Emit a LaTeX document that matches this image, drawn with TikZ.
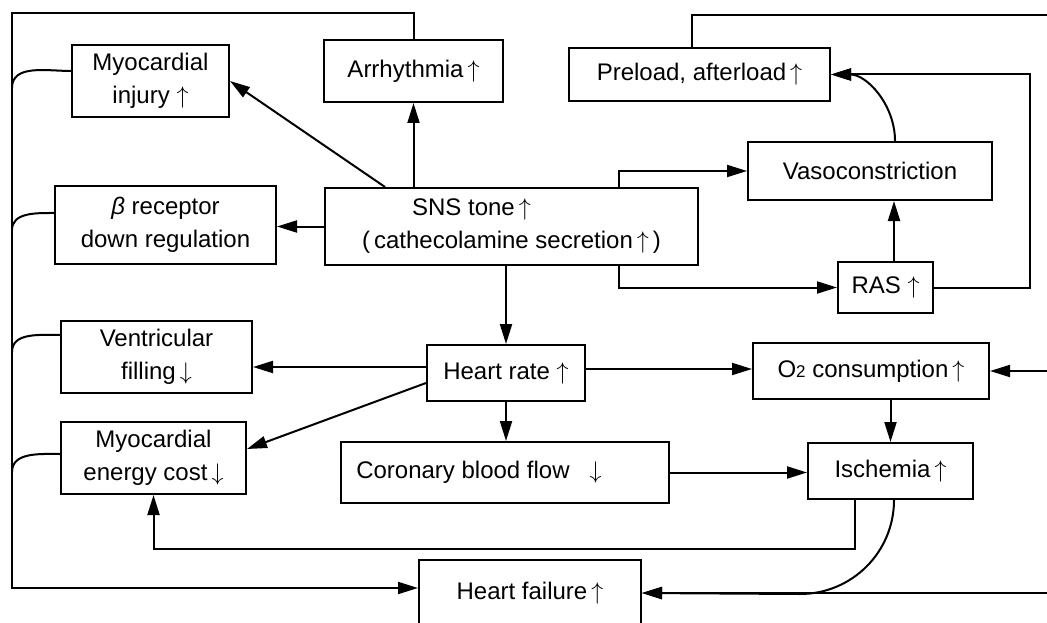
\documentclass[tikz,border=0pt]{standalone}
\usepackage{fontspec}
\setmainfont{Liberation Sans}
\usetikzlibrary{arrows.meta}

\begin{document}
\begin{tikzpicture}[x=0.5pt, y=0.5pt,
    box/.style={draw, line width=1pt, align=center, inner sep=1pt, font=\fontsize{12}{16.5}\selectfont},
    flow/.style={line width=1pt, -{Triangle[length=10pt, width=6pt]}},
    merge/.style={line width=1pt}
]

    \useasboundingbox (0,0) rectangle (1047,622);
    \clip (0,0) rectangle (1047,622);

    % Boxes

    \node[box, minimum width=78.5pt, minimum height=36pt] (injury) at (150.5,541) {Myocardial\\injury $\uparrow$};

    \node[box, minimum width=89.5pt, minimum height=31pt] (arrhy) at (413.5,551) {Arrhythmia\,$\uparrow$};

    \node[box, minimum width=130.5pt, minimum height=26.5pt] (preload) at (699.5,547.5) {Preload, afterload\,$\uparrow$};

    \node[box, minimum width=186.5pt, minimum height=38.5pt] (sns) at (511.5,395.5) {SNS tone\,$\uparrow$\hspace*{40pt}\\(\,cathecolamine secretion\,$\uparrow$\,)};

    \node[box, minimum width=110.5pt, minimum height=39pt] (beta) at (165.5,397) {\textit{β} receptor\\down regulation};

    \node[box, minimum width=122pt, minimum height=29pt] (vaso) at (870,451) {Vasoconstriction};

    \node[box, minimum width=47.5pt, minimum height=25.5pt] (ras) at (885.5,334.5) {RAS $\uparrow$};

    \node[box, minimum width=95.5pt, minimum height=36pt] (ventr) at (156.5,265) {Ventricular\\filling\,$\downarrow$};

    \node[box, minimum width=92.5pt, minimum height=36pt] (energy) at (153.5,164) {Myocardial\\energy cost\,$\downarrow$};

    \node[box, minimum width=79pt, minimum height=28pt] (hr) at (506,249) {Heart rate $\uparrow$};

    \node[box, minimum width=164pt, minimum height=30.5pt] (cbf) at (505,149.5) {Coronary blood flow\hspace{10pt}$\downarrow$\hspace*{26pt}};

    \node[box, minimum width=118pt, minimum height=28pt] (o2) at (871,251) {O{\fontsize{8.5}{8.5}\selectfont 2} consumption\,$\uparrow$};

    \node[box, minimum width=82.5pt, minimum height=28pt] (isch) at (890.5,151) {Ischemia\,$\uparrow$};

    \node[box, minimum width=111pt, minimum height=33pt] (hf) at (530,29) {Heart failure\,$\uparrow$};

    % Left feedback line

    \coordinate (tl) at (12,609);
    \coordinate (bl) at (12,34);
    \coordinate (j1) at (12,534);
    \coordinate (j2) at (12,392);
    \coordinate (j3) at (12,270);
    \coordinate (j4) at (12,150);

    \draw[flow] (arrhy.north) |- (tl) -- (bl) -- (bl -| hf.west);

    \draw[merge] ([yshift=5pt]injury.west) to[out=180,in=90] (j1);
    \draw[merge] ([yshift=6pt]beta.west) to[out=180,in=90] (j2);
    \draw[merge] ([yshift=11pt]ventr.west) to[out=180,in=90] (j3);
    \draw[merge] ([yshift=2pt]energy.west) to[out=180,in=90] (j4);

    % SNS tone

    \draw[flow] ([xshift=-63.25pt]sns.north) -- (injury.east);
    \draw[flow] (arrhy.south |- sns.north) -- (arrhy.south);
    \draw[flow] (sns.west) -- (sns.west -| beta.east);
    \draw[flow] ([xshift=53.75pt]sns.north) |- (vaso.west);
    \draw[flow] ([xshift=53.75pt]sns.south) |- (ras.west);
    \draw[flow] (hr.north |- sns.south) -- (hr.north);

    % RAS and vasoconstriction

    \coordinate (rc) at (1030,400);
    \draw[flow] ([xshift=4.25pt]ras.north) -- ([xshift=4.25pt]ras.north |- vaso.south);
    \draw[flow] (ras.east) -| (rc) |- (preload.east);
    \draw[flow] ([xshift=12.5pt]vaso.north) to[out=90,in=0] (preload.east);

    % Right feedback line

    \coordinate (tr) at (1070,607);
    \coordinate (br) at (1070,29);
    \draw[flow] ([xshift=-3.75pt]preload.north) |- (tr) -- (br) -- (hf.east);
    \draw[flow] (br |- o2.east) -- (o2.east);

    % Heart rate

    \draw[flow] ([yshift=3pt]hr.west) -- ([yshift=3pt]hr.west -| ventr.east);
    \draw[flow] ([yshift=-5pt]hr.west) -- ([yshift=4.5pt]energy.east);
    \draw[flow] ([yshift=2pt]hr.east) -- ([yshift=2pt]hr.east -| o2.west);
    \draw[flow] (hr.south) -- (hr.south |- cbf.north);

    % Ischemia

    \draw[flow] (cbf.east) -- (cbf.east -| isch.west);
    \draw[flow] (isch.north |- o2.south) -- (isch.north);
    \draw[flow] ([xshift=-17.75pt]isch.south) -- ++(0,-49) -| (energy.south);
    \draw[flow] ([xshift=1.75pt]isch.south) to[out=-90,in=0] ++(-94,-94) -- (hf.east);

\end{tikzpicture}
\end{document}
